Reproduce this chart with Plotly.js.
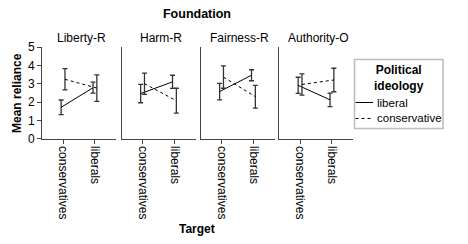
<!DOCTYPE html>
<html>
<head>
<meta charset="utf-8">
<script src="https://cdn.plot.ly/plotly-3.0.1.min.js"></script>
<style>html,body{margin:0;padding:0;background:#fff;}#chart{width:468px;height:244px;}</style>
</head>
<body>
<div id="chart"></div>
<script>
// ---- data ----
const panels = ['Liberty-R', 'Harm-R', 'Fairness-R', 'Authority-O'];
const targets = ['conservatives', 'liberals'];
const liberalMean = [[1.71, 2.78], [2.46, 3.10], [2.57, 3.46], [2.91, 2.12]];
const liberalErr = [[0.40, 0.30], [0.50, 0.36], [0.45, 0.30], [0.44, 0.37]];
const conservativeMean = [[3.24, 2.76], [3.00, 2.07], [3.36, 2.29], [2.96, 3.20]];
const conservativeErr = [[0.58, 0.72], [0.58, 0.68], [0.61, 0.62], [0.58, 0.64]];
const seriesNames = ['liberal', 'conservative'];
const seriesDash = ['solid', '3px,3px'];
const legendTitle = 'Political<br>ideology';
const yTicks = [0, 1, 2, 3, 4, 5];

// ---- layout helpers ----
const W = 468, H = 244;
const px = v => v / W;
const py = v => 1 - v / H;
const panelLeft = [42, 121.5, 200.5, 279];
const panelWidth = 74;
const plotTop = 47, plotBottom = 138.7;
const font = 'Arial, "Liberation Sans", sans-serif';
const offset = 0.06;

const traces = [];
const layout = {
  width: W, height: H,
  margin: {l: 0, r: 0, t: 0, b: 0},
  paper_bgcolor: '#fff', plot_bgcolor: '#fff',
  font: {family: font, size: 12, color: '#000'},
  showlegend: false,
  title: {text: '<b>Foundation</b>', x: px(197), xanchor: 'center', y: py(14), yanchor: 'middle',
          font: {family: font, size: 12.5, color: '#000'}},
  annotations: [],
  shapes: []
};

panels.forEach((p, i) => {
  const n = i === 0 ? '' : String(i + 1);
  const xa = 'xaxis' + n, ya = 'yaxis' + n;
  layout[xa] = {
    domain: [px(panelLeft[i]), px(panelLeft[i] + panelWidth)], range: [-0.66, 1.66], anchor: 'y' + n,
    tickmode: 'array', tickvals: targets.map((t, k) => k), ticktext: targets,
    tickangle: 90, ticks: 'outside', ticklen: 4, tickwidth: 1, tickcolor: '#444',
    showline: true, linecolor: '#444', linewidth: 1, showgrid: false, zeroline: false,
    tickfont: {family: font, size: 12, color: '#000'}, fixedrange: true
  };
  layout[ya] = {
    domain: [py(plotBottom), py(plotTop)], range: [0, 5], anchor: 'x' + n,
    showline: true, linecolor: '#444', linewidth: 1, showgrid: false, zeroline: false,
    tickmode: 'array', tickvals: yTicks,
    ticks: i === 0 ? 'outside' : '', ticklen: 4, tickcolor: '#444',
    showticklabels: i === 0, tickfont: {family: font, size: 12, color: '#000'}, fixedrange: true
  };
  layout.annotations.push({
    text: p, xref: 'paper', yref: 'paper', x: px(panelLeft[i] + panelWidth / 2 + 2), y: py(38),
    xanchor: 'center', yanchor: 'middle', showarrow: false, font: {family: font, size: 12, color: '#000'}
  });

  const groups = [
    {name: seriesNames[0], mean: liberalMean[i], err: liberalErr[i], dash: seriesDash[0], off: -offset},
    {name: seriesNames[1], mean: conservativeMean[i], err: conservativeErr[i], dash: seriesDash[1], off: offset}
  ];
  groups.forEach(g => {
    traces.push({
      type: 'scatter', mode: 'lines', name: g.name, legendgroup: g.name, showlegend: false,
      x: targets.map((t, k) => k + g.off), y: g.mean,
      xaxis: 'x' + n, yaxis: 'y' + n,
      line: {color: '#000', width: 1, dash: g.dash},
      error_y: {type: 'data', array: g.err, visible: true, color: '#333', thickness: 1.3, width: 2.5},
      hoverinfo: 'skip'
    });
  });
});

// axis titles
layout.annotations.push({
  text: '<b>Target</b>', xref: 'paper', yref: 'paper', x: px(197), y: py(229),
  xanchor: 'center', yanchor: 'middle', showarrow: false, font: {family: font, size: 12, color: '#000'}
});
layout.annotations.push({
  text: '<b>Mean reliance</b>', xref: 'paper', yref: 'paper', x: px(17), y: py(93),
  xanchor: 'center', yanchor: 'middle', textangle: -90, showarrow: false,
  font: {family: font, size: 12, color: '#000'}
});

// legend box (key)
layout.shapes.push({
  type: 'rect', xref: 'paper', yref: 'paper', x0: px(354.5), x1: px(443), y0: py(128.5), y1: py(59.5),
  line: {color: '#bbb', width: 1.5}, fillcolor: 'rgba(0,0,0,0)'
});
layout.annotations.push({
  text: '<b>' + legendTitle + '</b>', xref: 'paper', yref: 'paper', x: px(398.5), y: py(77.5),
  xanchor: 'center', yanchor: 'middle', showarrow: false, align: 'center',
  font: {family: font, size: 12, color: '#000'}
});
seriesNames.forEach((s, k) => {
  const yy = 102.5 + k * 16;
  layout.shapes.push({
    type: 'line', xref: 'paper', yref: 'paper', x0: px(355.5), x1: px(373), y0: py(yy), y1: py(yy),
    line: {color: '#000', width: 1, dash: seriesDash[k]}
  });
  layout.annotations.push({
    text: s, xref: 'paper', yref: 'paper', x: px(375), y: py(yy),
    xanchor: 'left', yanchor: 'middle', showarrow: false, font: {family: font, size: 11.5, color: '#000'}
  });
});

Plotly.newPlot('chart', traces, layout, {displayModeBar: false, staticPlot: true});
</script>
</body>
</html>
